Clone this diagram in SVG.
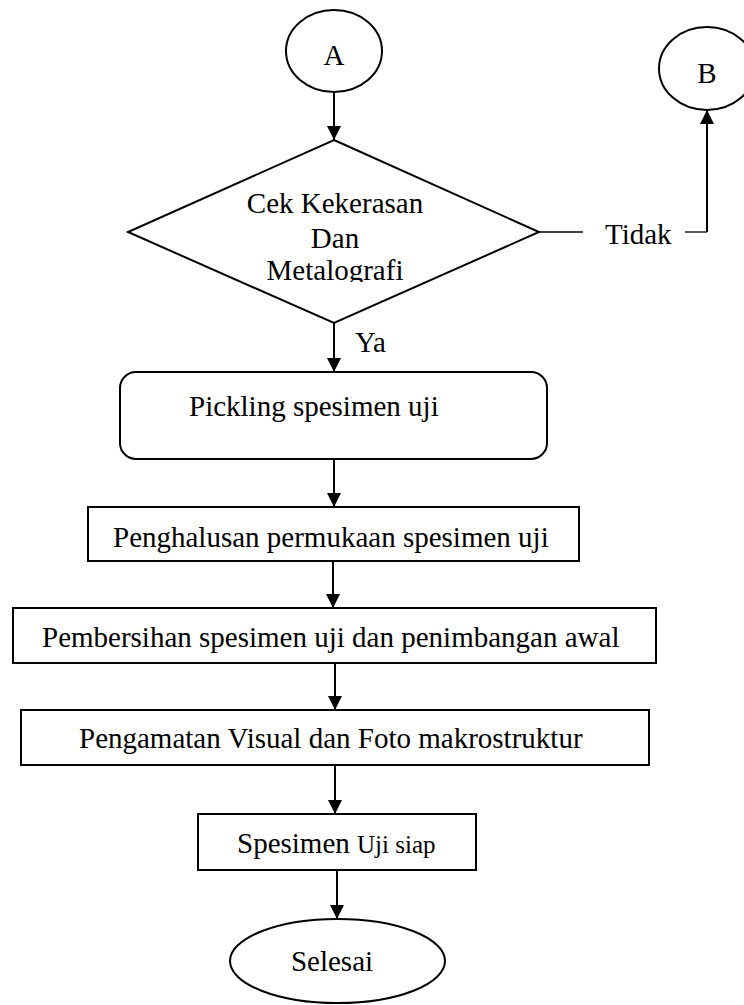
<svg xmlns="http://www.w3.org/2000/svg" width="744" height="1005" viewBox="0 0 744 1005">
<style>
.shape{fill:#fff;stroke:#000;stroke-width:2}
.t{font-family:"Liberation Serif","Times New Roman",serif;font-size:29px;fill:#000}
.c{text-anchor:middle}
.conn{fill:none;stroke:#000;stroke-width:2}
.thin{fill:none;stroke:#000;stroke-width:1.3}
</style>
<defs>
<marker id="arr" viewBox="0 0 14 14" refX="14" refY="7" markerWidth="14" markerHeight="14" markerUnits="userSpaceOnUse" orient="auto">
<path d="M0,0 L14,7 L0,14 z" fill="#000"/>
</marker>
<clipPath id="dclip"><rect x="120" y="140" width="420" height="142"/></clipPath>
</defs>
<rect width="744" height="1005" fill="#fff"/>
<g id="connectors">
<line class="conn" x1="334" y1="93" x2="334" y2="140" marker-end="url(#arr)"/>
<line class="thin" x1="539" y1="232" x2="583" y2="232"/>
<polyline class="thin" points="685,232 707,232"/>
<line class="conn" x1="707" y1="232" x2="707" y2="110" marker-end="url(#arr)"/>
<line class="conn" x1="334" y1="323" x2="334" y2="372" marker-end="url(#arr)"/>
<line class="conn" x1="334" y1="459" x2="334" y2="507" marker-end="url(#arr)"/>
<line class="conn" x1="333" y1="561" x2="333" y2="608" marker-end="url(#arr)"/>
<line class="conn" x1="335" y1="663" x2="335" y2="710" marker-end="url(#arr)"/>
<line class="conn" x1="335" y1="765" x2="335" y2="814" marker-end="url(#arr)"/>
<line class="conn" x1="337" y1="870" x2="337" y2="919" marker-end="url(#arr)"/>
<text class="t" x="605" y="244">Tidak</text>
<text class="t" x="355" y="352">Ya</text>
</g>
<g id="nodeA">
<ellipse class="shape" cx="334" cy="51" rx="48" ry="41"/>
<text class="t c" x="334" y="65">A</text>
</g>
<g id="nodeB">
<ellipse class="shape" cx="707" cy="68.5" rx="48" ry="41.5"/>
<text class="t c" x="707" y="83">B</text>
</g>
<g id="decision">
<polygon class="shape" points="334,140 539,232 334,323 128,232"/>
<text class="t c" x="335" y="213">Cek Kekerasan</text>
<text class="t c" x="335" y="248">Dan</text>
<text class="t c" x="335" y="280" clip-path="url(#dclip)">Metalografi</text>
</g>
<g id="pickling">
<rect class="shape" x="120" y="372" width="427" height="87" rx="16"/>
<text class="t" x="189" y="416">Pickling spesimen uji</text>
</g>
<g id="penghalusan">
<rect class="shape" x="88" y="507" width="491" height="54"/>
<text class="t" x="113" y="547">Penghalusan permukaan spesimen uji</text>
</g>
<g id="pembersihan">
<rect class="shape" x="13" y="608" width="643" height="55"/>
<text class="t" x="42" y="647">Pembersihan spesimen uji dan penimbangan awal</text>
</g>
<g id="pengamatan">
<rect class="shape" x="21" y="710" width="628" height="55"/>
<text class="t" x="79" y="748">Pengamatan Visual dan Foto makrostruktur</text>
</g>
<g id="siap">
<rect class="shape" x="198" y="814" width="278" height="56"/>
<text class="t" x="237" y="853">Spesimen <tspan font-size="25">Uji siap</tspan></text>
</g>
<g id="selesai">
<ellipse class="shape" cx="337.5" cy="961" rx="107.5" ry="42"/>
<text class="t c" x="332" y="971">Selesai</text>
</g>
</svg>
